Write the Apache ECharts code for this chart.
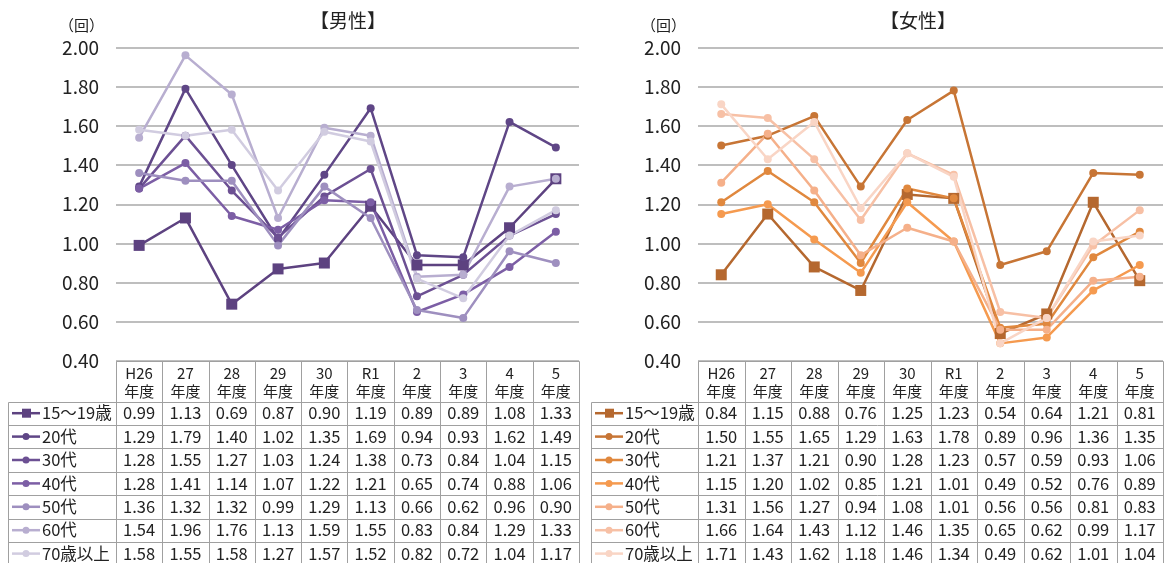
<!DOCTYPE html>
<html>
<head>
<meta charset="utf-8">
<script src="https://cdn.jsdelivr.net/npm/echarts@6/dist/echarts.min.js"></script>
<style>
  html, body { margin: 0; padding: 0; background: #fff; }
  #main { width: 1165px; height: 563px; }
</style>
</head>
<body>
<div id="main"></div>
<script>
const FONT = '"Noto Sans CJK JP", "Noto Sans", sans-serif';

const categories = ['H26', '27', '28', '29', '30', 'R1', '2', '3', '4', '5'];
const ageGroups = ['15～19歳', '20代', '30代', '40代', '50代', '60代', '70歳以上'];

// 男性
const m15 = [0.99, 1.13, 0.69, 0.87, 0.90, 1.19, 0.89, 0.89, 1.08, 1.33];
const m20 = [1.29, 1.79, 1.40, 1.02, 1.35, 1.69, 0.94, 0.93, 1.62, 1.49];
const m30 = [1.28, 1.55, 1.27, 1.03, 1.24, 1.38, 0.73, 0.84, 1.04, 1.15];
const m40 = [1.28, 1.41, 1.14, 1.07, 1.22, 1.21, 0.65, 0.74, 0.88, 1.06];
const m50 = [1.36, 1.32, 1.32, 0.99, 1.29, 1.13, 0.66, 0.62, 0.96, 0.90];
const m60 = [1.54, 1.96, 1.76, 1.13, 1.59, 1.55, 0.83, 0.84, 1.29, 1.33];
const m70 = [1.58, 1.55, 1.58, 1.27, 1.57, 1.52, 0.82, 0.72, 1.04, 1.17];

// 女性
const f15 = [0.84, 1.15, 0.88, 0.76, 1.25, 1.23, 0.54, 0.64, 1.21, 0.81];
const f20 = [1.50, 1.55, 1.65, 1.29, 1.63, 1.78, 0.89, 0.96, 1.36, 1.35];
const f30 = [1.21, 1.37, 1.21, 0.90, 1.28, 1.23, 0.57, 0.59, 0.93, 1.06];
const f40 = [1.15, 1.20, 1.02, 0.85, 1.21, 1.01, 0.49, 0.52, 0.76, 0.89];
const f50 = [1.31, 1.56, 1.27, 0.94, 1.08, 1.01, 0.56, 0.56, 0.81, 0.83];
const f60 = [1.66, 1.64, 1.43, 1.12, 1.46, 1.35, 0.65, 0.62, 0.99, 1.17];
const f70 = [1.71, 1.43, 1.62, 1.18, 1.46, 1.34, 0.49, 0.62, 1.01, 1.04];

const maleRows = [m15, m20, m30, m40, m50, m60, m70];
const femaleRows = [f15, f20, f30, f40, f50, f60, f70];
const maleColors = ['#5d4280', '#5f4686', '#6c5093', '#7c5ea5', '#9e8fbf', '#b8aed0', '#d1cce0'];
const femaleColors = ['#b5682f', '#c77535', '#e0883e', '#f59a4f', '#f5b08a', '#f7c0a5', '#f9d5c5'];

const chart = echarts.init(document.getElementById('main'));

function makeSeries(rows, colors, k) {
  return rows.map((data, i) => ({
    name: ageGroups[i],
    type: 'line',
    xAxisIndex: k,
    yAxisIndex: k,
    data: data,
    symbol: i === 0 ? 'rect' : 'circle',
    symbolSize: i === 0 ? 11 : 8,
    itemStyle: { color: colors[i] },
    lineStyle: { color: colors[i], width: 2.5 },
    emphasis: { disabled: true }
  }));
}

function yAxis(k) {
  return {
    type: 'value', gridIndex: k, min: 0.4, max: 2.0, interval: 0.2,
    axisLine: { show: false }, axisTick: { show: false },
    axisLabel: { formatter: v => v.toFixed(2), fontSize: 19, color: '#222', margin: 17, fontFamily: FONT },
    splitLine: { lineStyle: { color: '#a8a8a8', width: 1.5 } }
  };
}

function xAxis(k) {
  return {
    type: 'category', gridIndex: k, data: categories, boundaryGap: true,
    axisLine: { show: false }, axisTick: { show: false }, axisLabel: { show: false }
  };
}

chart.setOption({
  animation: false,
  grid: [
    { left: 116, width: 463, top: 47.5, height: 313.5 },
    { left: 698, width: 465, top: 47.5, height: 313.5 }
  ],
  xAxis: [xAxis(0), xAxis(1)],
  yAxis: [yAxis(0), yAxis(1)],
  series: makeSeries(maleRows, maleColors, 0).concat(makeSeries(femaleRows, femaleColors, 1))
});

// data table under each chart
function buildTable(k, legendLeft, rows, colors, title, titleX) {
  const els = [];
  const c0 = chart.convertToPixel({ xAxisIndex: k }, 0);
  const c1 = chart.convertToPixel({ xAxisIndex: k }, 1);
  const bw = c1 - c0;
  const left = c0 - bw / 2;
  const right = left + bw * categories.length;
  const top = 361, headBottom = 401.5, rowH = 23.4;
  const bottom = headBottom + rowH * rows.length;
  const border = { stroke: '#a0a0a0', lineWidth: 1 };
  const line = (x1, y1, x2, y2) => els.push({
    type: 'line', silent: true,
    shape: { x1: Math.round(x1) + 0.5, y1: Math.round(y1) + 0.5, x2: Math.round(x2) + 0.5, y2: Math.round(y2) + 0.5 },
    style: border
  });
  const text = (x, y, str, align, size) => els.push({
    type: 'text', silent: true, x: x, y: y,
    style: { text: str, fill: '#222', font: size + 'px ' + FONT, align: align, verticalAlign: 'middle', lineHeight: 18 }
  });

  line(left, top, right, top);
  for (let r = 0; r <= rows.length; r++) line(legendLeft, headBottom + rowH * r, right, headBottom + rowH * r);
  line(legendLeft, headBottom, legendLeft, bottom);
  for (let j = 0; j <= categories.length; j++) line(left + bw * j, top, left + bw * j, bottom);

  categories.forEach((c, j) => text(left + bw * (j + 0.5), (top + headBottom) / 2 + 1, c + '\n年度', 'center', 15));

  rows.forEach((data, r) => {
    const cy = headBottom + rowH * (r + 0.5);
    data.forEach((v, j) => text(left + bw * (j + 0.5), cy, v.toFixed(2), 'center', 16.5));
    els.push({
      type: 'line', silent: true,
      shape: { x1: legendLeft + 4, y1: cy, x2: legendLeft + 32, y2: cy },
      style: { stroke: colors[r], lineWidth: 2.5 }
    });
    if (r === 0) {
      els.push({ type: 'rect', silent: true, shape: { x: legendLeft + 14, y: cy - 4.5, width: 9, height: 9 }, style: { fill: colors[r] } });
    } else {
      els.push({ type: 'circle', silent: true, shape: { cx: legendLeft + 18, cy: cy, r: 3.5 }, style: { fill: colors[r] } });
    }
    text(legendLeft + 34, cy, ageGroups[r], 'left', 16.5);
  });

  els.push({
    type: 'text', silent: true, x: titleX, y: 21,
    style: { text: title, fill: '#222', font: '19px ' + FONT, align: 'center', verticalAlign: 'middle' }
  });
  els.push({
    type: 'text', silent: true, x: left - 12, y: 25,
    style: { text: '（回）', fill: '#222', font: '15px ' + FONT, align: 'right', verticalAlign: 'middle' }
  });
  return els;
}

chart.setOption({
  graphic: buildTable(0, 8, maleRows, maleColors, '【男性】', 348)
    .concat(buildTable(1, 591, femaleRows, femaleColors, '【女性】', 918))
});
</script>
</body>
</html>
